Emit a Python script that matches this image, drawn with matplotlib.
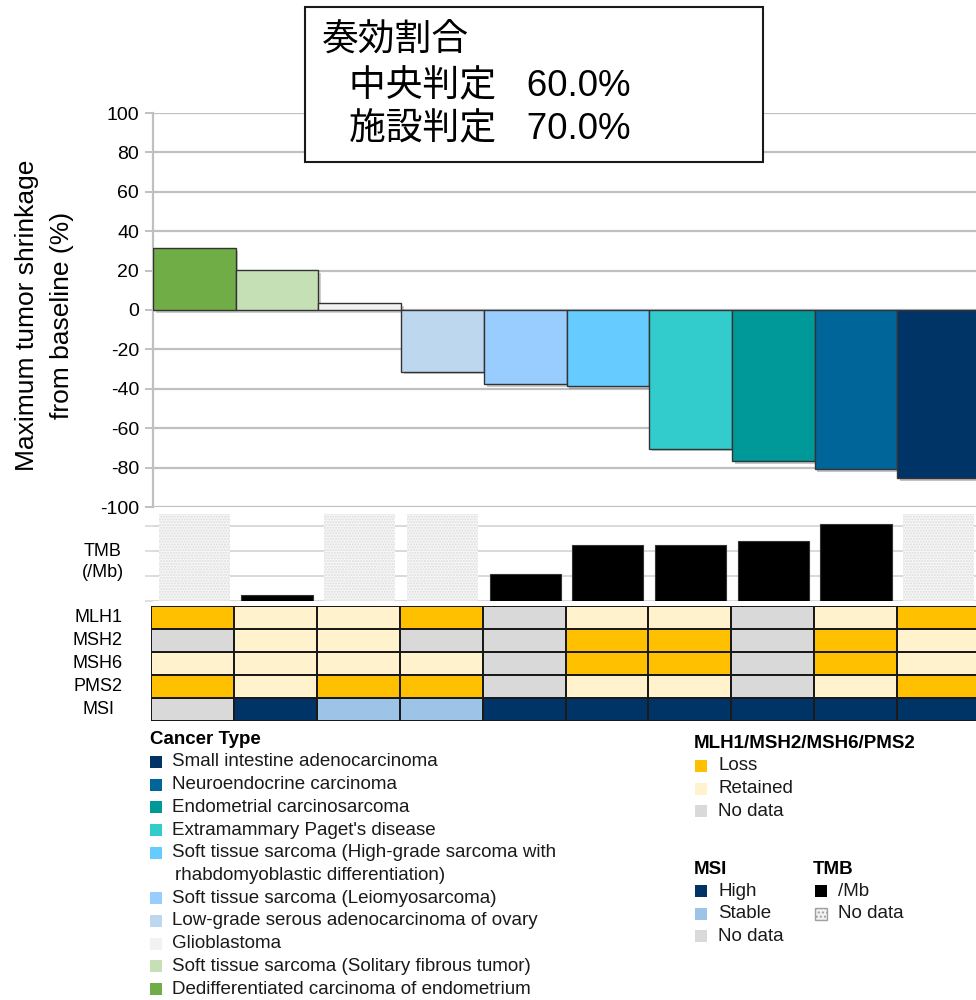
import matplotlib
matplotlib.use("Agg")
import matplotlib.pyplot as plt
import matplotlib.patheffects as pe
from matplotlib.patches import Rectangle
from matplotlib.colors import ListedColormap
import numpy as np

plt.rcParams['font.family'] = ['Liberation Sans', 'DejaVu Sans']
plt.rcParams['axes.unicode_minus'] = False
plt.rcParams['hatch.linewidth'] = 1.0

# waterfall data, one column per patient (left to right)
cancer_types = [
    "Dedifferentiated carcinoma of endometrium",
    "Soft tissue sarcoma (Solitary fibrous tumor)",
    "Glioblastoma",
    "Low-grade serous adenocarcinoma of ovary",
    "Soft tissue sarcoma (Leiomyosarcoma)",
    "Soft tissue sarcoma (High-grade sarcoma with\nrhabdomyoblastic differentiation)",
    "Extramammary Paget's disease",
    "Endometrial carcinosarcoma",
    "Neuroendocrine carcinoma",
    "Small intestine adenocarcinoma",
]
type_colors = ["#70AD47", "#C5E0B4", "#F2F2F2", "#BDD7EE", "#99CCFF",
               "#66CCFF", "#33CCCC", "#009999", "#006699", "#003366"]
shrinkage = [31.5, 20.3, 3.6, -31.3, -37.7, -38.6, -70.4, -76.8, -80.9, -85.4]

# tumor mutational burden (/Mb), None = no data
tmb = [None, 2.4, None, None, 11.0, 22.4, 22.4, 24.1, 31.0, None]

# IHC status: L = loss, R = retained, N = no data
ihc_rows = ["MLH1", "MSH2", "MSH6", "PMS2"]
mlh1 = ["L", "R", "R", "L", "N", "R", "R", "N", "R", "L"]
msh2 = ["N", "R", "R", "N", "N", "L", "L", "N", "L", "R"]
msh6 = ["R", "R", "R", "R", "N", "L", "L", "N", "L", "R"]
pms2 = ["L", "R", "L", "L", "N", "R", "R", "N", "R", "L"]
# MSI: H = high, S = stable, N = no data
msi = ["N", "H", "S", "S", "H", "H", "H", "H", "H", "H"]

ihc_colors = {"L": "#FFC000", "R": "#FFF2CC", "N": "#D9D9D9"}
msi_colors = {"H": "#003366", "S": "#9DC3E6", "N": "#D9D9D9"}

response_title = "奏効割合"
response_labels = ["中央判定", "施設判定"]
response_rates = [60.0, 70.0]

W, H = 976, 1000
fig = plt.figure(figsize=(W / 100, H / 100), dpi=100)


def fx(px):
    return px / W


def fy(py):
    return 1 - py / H


n = len(shrinkage)
x = np.arange(n)
grid_c = "#C0C0C0"

# --- waterfall ---
ax = fig.add_axes([fx(153), fy(507), fx(980 - 153), (507 - 113) / H])
bars = ax.bar(x, shrinkage, width=1.0, color=type_colors, edgecolor="#333333",
              linewidth=1.0, zorder=3)
for b in bars:
    b.set_path_effects([pe.SimplePatchShadow(offset=(2, -2), alpha=0.25),
                        pe.Normal()])
ax.set_xlim(-0.5, n - 0.5)
ax.set_ylim(-100, 100)
ax.set_yticks(range(-100, 101, 20))
ax.yaxis.grid(True, color=grid_c, linewidth=1.6, zorder=0)
ax.set_xticks([])
for s in ["top", "right", "bottom"]:
    ax.spines[s].set_visible(False)
ax.spines["left"].set_color(grid_c)
ax.spines["left"].set_linewidth(1.6)
ax.tick_params(axis="y", length=6, width=1.4, color=grid_c, labelsize=14, pad=4)
fig.text(fx(27), fy(315), "Maximum tumor shrinkage", rotation=90,
         ha="center", va="center", fontsize=19)
fig.text(fx(62), fy(315), "from baseline (%)", rotation=90,
         ha="center", va="center", fontsize=19)

# --- TMB ---
tax = fig.add_axes([fx(153), fy(601), fx(980 - 153), (601 - 514) / H])
tmb_top = 35
tax.set_xlim(-0.5, n - 0.5)
tax.set_ylim(0, tmb_top)
for i, v in enumerate(tmb):
    if v is None:
        tax.bar(i, tmb_top, width=0.86, color="#F7F7F7", edgecolor="#DCDCDC",
                linewidth=0, hatch="......", zorder=3)
    else:
        tax.bar(i, v, width=0.86, color="black", edgecolor="#333333",
                linewidth=0.8, zorder=3)
tax.set_yticks([0, 10, 20, 30])
tax.set_yticklabels([])
tax.yaxis.grid(True, color="#D9D9D9", linewidth=1.4, zorder=0)
tax.set_xticks([])
for s in tax.spines.values():
    s.set_visible(False)
tax.tick_params(axis="y", length=6, width=1.2, color="#D9D9D9")
fig.text(fx(103), fy(562), "TMB\n(/Mb)", ha="center", va="center",
         fontsize=13, linespacing=1.3)

# --- IHC / MSI heatmap ---
hax = fig.add_axes([fx(151), fy(721), fx(980 - 151), (721 - 606) / H])
rows = [mlh1, msh2, msh6, pms2]
codes = {"L": 0, "R": 1, "N": 2, "H": 3, "S": 4}
grid = np.array([[codes[c] for c in r] for r in rows] +
                [[codes[c] for c in msi]])
cmap = ListedColormap([ihc_colors["L"], ihc_colors["R"], ihc_colors["N"],
                       msi_colors["H"], msi_colors["S"]])
hax.pcolormesh(np.arange(n + 1) - 0.5, np.arange(6), grid, cmap=cmap,
               vmin=-0.5, vmax=4.5, edgecolors="#1A1A1A", linewidth=1.3)
hax.set_xlim(-0.5, n - 0.5)
hax.set_ylim(5, 0)
hax.set_xticks([])
hax.set_yticks([])
for s in hax.spines.values():
    s.set_visible(False)
for j, lab in enumerate(ihc_rows + ["MSI"]):
    fig.text(fx(98), fy(606 + 23 * j + 11.5), lab, ha="center", va="center",
             fontsize=13)


# --- legends ---
def swatch(px, py, color, edge=None, hatch=None):
    r = Rectangle((fx(px), fy(py + 6)), fx(12), 12 / H, transform=fig.transFigure,
                  facecolor=color, edgecolor=edge if edge else color,
                  linewidth=1.0 if edge else 0, hatch=hatch)
    fig.add_artist(r)


fs = 13.5
fig.text(fx(150), fy(740), "Cancer Type", fontweight="bold", fontsize=fs,
         va="center")
line = 0
for name, col in zip(cancer_types[::-1], type_colors[::-1]):
    parts = name.split("\n")
    swatch(150, 762 + 22.7 * line, col)
    for k, p in enumerate(parts):
        fig.text(fx(172 if k == 0 else 175), fy(762 + 22.7 * (line + k)), p,
                 fontsize=fs, va="center", color="#1A1A1A")
    line += len(parts)

fig.text(fx(694), fy(743), "MLH1/MSH2/MSH6/PMS2", fontweight="bold",
         fontsize=fs, va="center")
for k, (lab, key) in enumerate([("Loss", "L"), ("Retained", "R"), ("No data", "N")]):
    py = 766 + 22.7 * k
    swatch(695, py, ihc_colors[key])
    fig.text(fx(718), fy(py), lab, fontsize=fs, va="center", color="#1A1A1A")

fig.text(fx(694), fy(869), "MSI", fontweight="bold", fontsize=fs, va="center")
for k, (lab, key) in enumerate([("High", "H"), ("Stable", "S"), ("No data", "N")]):
    py = 891 + 22.7 * k
    swatch(695, py, msi_colors[key])
    fig.text(fx(718), fy(py), lab, fontsize=fs, va="center", color="#1A1A1A")

fig.text(fx(813), fy(869), "TMB", fontweight="bold", fontsize=fs, va="center")
swatch(815, 891, "black")
fig.text(fx(838), fy(891), "/Mb", fontsize=fs, va="center", color="#1A1A1A")
swatch(815, 914, "#F2F2F2", edge="#A0A0A0", hatch="....")
fig.text(fx(838), fy(914), "No data", fontsize=fs, va="center", color="#1A1A1A")

# --- response rate box ---
box = Rectangle((fx(305), fy(162)), fx(763 - 305), (162 - 7) / H,
                transform=fig.transFigure, facecolor="white",
                edgecolor="#1A1A1A", linewidth=1.5, zorder=5)
fig.add_artist(box)
jp = ['Liberation Sans', 'Noto Sans CJK JP']
fig.text(fx(322), fy(41), response_title, fontsize=26.5, family=jp,
         va="center", zorder=6)
for k, (lab, rate) in enumerate(zip(response_labels, response_rates)):
    fig.text(fx(349), fy(87 + 43 * k), f"{lab}   {rate:.1f}%", fontsize=26.5,
             family=jp, va="center", zorder=6)

fig.savefig("out.png", dpi=100)
